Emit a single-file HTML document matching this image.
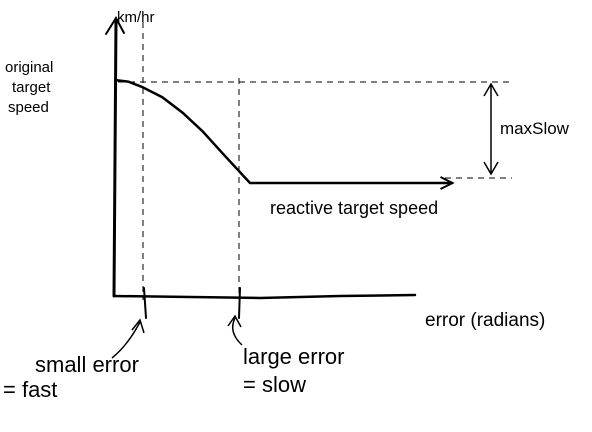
<!DOCTYPE html>
<html>
<head>
<meta charset="utf-8">
<style>
  html, body { margin: 0; padding: 0; background: #fff; }
  svg { display: block; }
  text { font-family: "Liberation Sans", "DejaVu Sans", sans-serif; fill: #000; }
</style>
</head>
<body>
<svg id="chart" width="592" height="432" viewBox="0 0 592 432">
  <g id="guides" stroke="#000" stroke-width="1" stroke-dasharray="6,5" fill="none">
    <line x1="118" y1="82" x2="512" y2="82"/>
    <line x1="445" y1="178" x2="512" y2="178"/>
    <line x1="143" y1="22" x2="143" y2="300"/>
    <line x1="239" y1="78" x2="239" y2="300"/>
  </g>
  <g stroke="#000" fill="none" stroke-linecap="round">
    <path d="M114 296 L116 20" stroke-width="3"/>
    <path d="M106 34 L116 18 L124 33" stroke-width="2"/>
    <path d="M114 296 L260 298 L340 296 L415 295" stroke-width="2.5"/>
    <path d="M144 288 L146 318" stroke-width="2"/>
    <path d="M240 288 L239 318" stroke-width="2"/>
  </g>
  <g id="series"></g>
  <g stroke="#000" fill="none" stroke-width="1.5">
    <line x1="491" y1="84" x2="491" y2="174"/>
    <path d="M484 96 L491 84 L498 96"/>
    <path d="M484 162 L491 174 L498 162"/>
  </g>
  <text x="117" y="22" font-size="15">km/hr</text>
  <text x="5" y="72" font-size="15">original</text>
  <text x="12" y="92" font-size="15">target</text>
  <text x="8" y="112" font-size="15">speed</text>
  <text x="500" y="134" font-size="17">maxSlow</text>
  <text x="270" y="214" font-size="18">reactive target speed</text>
  <text x="425" y="326" font-size="19">error (radians)</text>
  <text x="35" y="372" font-size="22">small error</text>
  <text x="3" y="397" font-size="22">= fast</text>
  <text x="243" y="364" font-size="22">large error</text>
  <text x="243" y="392" font-size="22">= slow</text>
  <g stroke="#000" fill="none" stroke-width="1.5">
    <path d="M112 358 Q128 345 140 322"/>
    <path d="M132 330 L140 320 L144 333"/>
    <path d="M242 345 Q228 332 235 318"/>
    <path d="M228 326 L235 316 L241 327"/>
  </g>
</svg>
<script>
// error values (sketch units) and speed values (km/hr, relative)
const errors = [0, 0.1, 0.2, 0.35, 0.5, 0.65, 0.8, 1.0, 2.5];
const speeds = [100, 99, 96, 90, 81, 70, 57, 40, 40];
function xs(e) { return 115 + e * 135; }
function ys(s) { return 183 - (s - 40) / 60 * 103; }
const g = document.getElementById('series');
let d = '';
for (let i = 0; i < errors.length; i++) d += (i ? 'L' : 'M') + xs(errors[i]).toFixed(1) + ' ' + ys(speeds[i]).toFixed(1) + ' ';
const p = document.createElementNS('http://www.w3.org/2000/svg', 'path');
p.setAttribute('d', d);
p.setAttribute('stroke', '#000');
p.setAttribute('stroke-width', '2.5');
p.setAttribute('fill', 'none');


g.appendChild(p);
const lx = xs(errors[errors.length - 1]), ly = ys(speeds[speeds.length - 1]);
const a = document.createElementNS('http://www.w3.org/2000/svg', 'path');
a.setAttribute('d', 'M' + (lx - 12) + ' ' + (ly - 6) + ' L' + lx + ' ' + ly + ' L' + (lx - 12) + ' ' + (ly + 6));
a.setAttribute('stroke', '#000');
a.setAttribute('stroke-width', '2');
a.setAttribute('fill', 'none');


g.appendChild(a);
</script>
</body>
</html>
